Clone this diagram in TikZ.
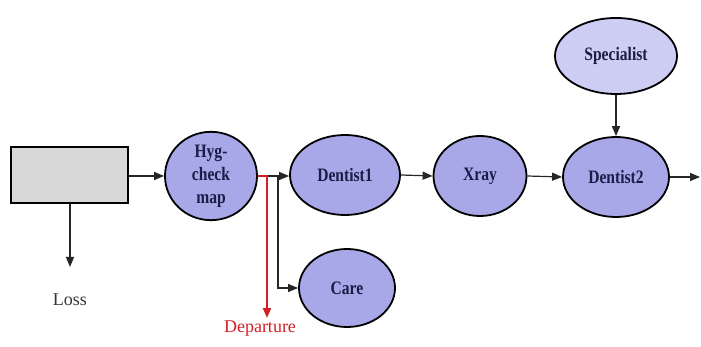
\documentclass[tikz,border=0pt]{standalone}
\usepackage{fontspec}
\setmainfont{Liberation Serif}
\newfontfamily\lblfont[FakeStretch=0.82]{Liberation Serif}
\usetikzlibrary{arrows.meta,shapes.geometric}
\definecolor{ellfill}{RGB}{168,168,232}
\definecolor{specfill}{RGB}{206,206,244}
\definecolor{boxfill}{RGB}{216,216,216}
\definecolor{lbltext}{RGB}{28,28,72}
\definecolor{depred}{RGB}{214,30,36}
\begin{document}
\begin{tikzpicture}[x=1pt,y=-1pt,
  stn/.style={ellipse,draw=black,line width=1.8pt,fill=ellfill,inner sep=0pt,
    font=\lblfont\bfseries\fontsize{19}{23}\selectfont,text=lbltext,align=center},
  arr/.style={line width=1.2pt,draw=black!85,-{Triangle[length=10pt,width=8pt]}},
  plain/.style={font=\fontsize{18}{22}\selectfont}]
\useasboundingbox (0,0) rectangle (701,347);
\node[draw=black,line width=1.4pt,fill=boxfill,minimum width=117pt,minimum height=56pt,inner sep=0pt] (src) at (69.5,175) {};
\node[stn,minimum width=92pt,minimum height=80pt] (hyg) at (211,176) {Hyg-\\check\\map};
\node[stn,minimum width=110pt,minimum height=80pt] (d1) at (345,175) {Dentist1};
\node[stn,minimum width=93pt,minimum height=80pt] (xray) at (480,176) {Xray};
\node[stn,minimum width=106pt,minimum height=80pt] (d2) at (616,177) {Dentist2};
\node[stn,fill=specfill,minimum width=122pt,minimum height=76pt] (spec) at (616,56) {Specialist};
\node[stn,minimum width=96pt,minimum height=78pt] (care) at (347,288) {Care};
\node[plain,text=black!80] (loss) at (70,300) {Loss};
\node[plain,text=depred] (dep) at (260,329) {Departure};
\coordinate (lossend) at (70,267);
\coordinate (out) at (700,177);
\coordinate (br) at (278,176);
\coordinate (brc) at (278,288);
\coordinate (rr) at (267,176);
\coordinate (rend) at (267,318);
\draw[arr] (src.east |- hyg.west) -- (hyg.west);
\draw[arr] (src.south -| lossend) -- (lossend);
\draw[line width=1.2pt,draw=black!85] (hyg.east) -- (br);
\draw[arr] (br) -- (br -| d1.west);
\draw[arr] (br) -- (brc) -- (care.west);
\draw[line width=2pt,draw=depred,-{Triangle[length=10pt,width=8pt]}] (hyg.east) -- (rr) -- (rend);
\draw[arr] (d1.east) -- (xray.west);
\draw[arr] (xray.east) -- (d2.west);
\draw[arr] (d2.east) -- (out);
\draw[arr] (spec.south) -- (d2.north);
\end{tikzpicture}
\end{document}
